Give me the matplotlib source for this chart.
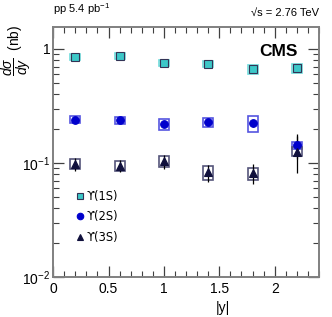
import matplotlib
matplotlib.use("Agg")
import matplotlib.pyplot as plt
from matplotlib.patches import Rectangle
from matplotlib.ticker import LogLocator, MultipleLocator, NullFormatter, FuncFormatter

plt.rcParams['font.family'] = ['Liberation Sans', 'DejaVu Sans']
plt.rcParams['mathtext.fontset'] = 'custom'
plt.rcParams['mathtext.rm'] = 'Liberation Sans'
plt.rcParams['mathtext.it'] = 'Liberation Sans:italic'

rap = [0.2, 0.6, 1.0, 1.4, 1.8, 2.2]

# Upsilon(1S)
y1s = [0.845, 0.868, 0.749, 0.744, 0.664, 0.677]
stat1s = [0.015, 0.015, 0.013, 0.013, 0.014, 0.028]
syst1s = [0.05, 0.05, 0.045, 0.045, 0.06, 0.06]
# Upsilon(2S)
y2s = [0.240, 0.237, 0.218, 0.227, 0.223, 0.144]
stat2s = [0.010, 0.010, 0.011, 0.011, 0.014, 0.035]
syst2s = [0.017, 0.018, 0.024, 0.022, 0.035, 0.010]
# Upsilon(3S)
y3s = [0.098, 0.095, 0.1035, 0.0828, 0.0813, 0.126]
stat3s = [0.013, 0.012, 0.014, 0.014, 0.016, 0.045]
syst3s = [0.010, 0.010, 0.012, 0.012, 0.010, 0.011]

labels = ['\u03d2(1S)', '\u03d2(2S)', '\u03d2(3S)']
series = [(y1s, stat1s, syst1s), (y2s, stat2s, syst2s), (y3s, stat3s, syst3s)]
markers = ['s', 'o', '^']
fcolors = ['#3cc8c8', '#0000cc', '#10103c']
ecolors = ['#333355', '#0000cc', '#10103c']
bcolors = ['#6fdcdc', '#5555e0', '#55557a']
halfw = 0.045

fig = plt.figure(figsize=(3.32, 3.17), dpi=100)
ax = fig.add_axes([0.160, 0.126, 0.801, 0.789])

handles = []
for (vals, stat, syst), m, fc, ec, bc, lab in zip(series, markers, fcolors, ecolors, bcolors, labels):
    for x, v, s in zip(rap, vals, syst):
        ax.add_patch(Rectangle((x - halfw, v - s), 2 * halfw, 2 * s,
                               fill=False, edgecolor=bc, lw=1.2, zorder=2))
    ax.errorbar(rap, vals, yerr=stat, fmt='none', ecolor='black', elinewidth=0.9, zorder=3)
    h, = ax.plot(rap, vals, ls='none', marker=m, ms=5.5, mfc=fc, mec=ec, mew=0.8,
                 zorder=4, label=lab)
    handles.append(h)

ax.set_yscale('log')
ax.set_xlim(0, 2.4)
ax.set_ylim(0.01, 1.56)
ax.xaxis.set_major_locator(MultipleLocator(0.5))
ax.xaxis.set_minor_locator(MultipleLocator(0.1))
ax.xaxis.set_major_formatter(FuncFormatter(lambda v, p: f'{v:g}'))
ax.yaxis.set_minor_locator(LogLocator(base=10, subs=range(2, 10)))
ax.yaxis.set_minor_formatter(NullFormatter())
ax.set_yticks([0.01, 0.1, 1])
ax.set_yticklabels([r'$10^{-2}$', r'$10^{-1}$', '1'])
ax.tick_params(which='both', direction='in', top=True, right=True, labelsize=10,
               color='#404040')
ax.tick_params(which='major', length=8, width=0.9)
ax.tick_params(which='minor', length=4, width=0.8)
ax.tick_params(axis='y', pad=2)
for sp in ax.spines.values():
    sp.set_color('#808080')
    sp.set_linewidth(1.4)

ax.set_xlabel('|y|', fontsize=10, labelpad=1)
ax.xaxis.set_label_coords(0.64, -0.095)
fig.text(0.05, 0.84, r'$\dfrac{d\sigma}{dy}$  (nb)', rotation=90, ha='center', va='center',
         fontsize=10)

ax.text(0.92, 0.93, 'CMS', transform=ax.transAxes, ha='right', va='top',
        fontsize=12.5, fontweight='bold')
fig.text(0.160, 0.945, r'pp 5.4 pb$^{-1}$', ha='left', va='bottom', fontsize=8)
fig.text(0.961, 0.945, '\u221as = 2.76 TeV', ha='right', va='bottom', fontsize=8)

ax.legend(handles=handles, loc='lower left', bbox_to_anchor=(0.07, 0.115), frameon=False,
          prop={'family': 'DejaVu Sans', 'size': 8.3}, handlelength=0.6,
          handletextpad=0.3, labelspacing=0.65, borderaxespad=0, markerscale=0.85)

fig.savefig('out.png', dpi=100)
